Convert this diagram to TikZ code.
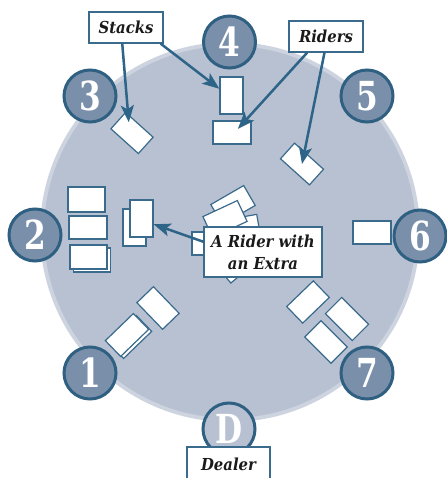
\documentclass[tikz,border=0pt]{standalone}
\usepackage{fontspec}
\newfontfamily\lblfont[FakeStretch=0.9]{DejaVu Serif}
\newfontfamily\numfont[FakeStretch=0.78]{DejaVu Serif}
\usetikzlibrary{arrows.meta,calc}
\definecolor{tablefill}{HTML}{B7C1D2}
\definecolor{tablerim}{HTML}{CDD4E0}
\definecolor{seatfill}{HTML}{7A90AA}
\definecolor{seatline}{HTML}{2F6082}
\definecolor{cardline}{HTML}{3A6A8C}
\definecolor{arrowcol}{HTML}{2D6487}
\definecolor{ink}{HTML}{1A1A1A}
\begin{document}
\begin{tikzpicture}[x=1pt,y=-1pt,
  seat/.style={circle, draw=seatline, line width=3pt, fill=seatfill, minimum size=52pt, inner sep=0pt, text=white, font=\numfont\bfseries\fontsize{40}{40}\selectfont},
  card/.style={draw=cardline, fill=white, line width=1.2pt, minimum width=38pt, minimum height=23pt, inner sep=0pt},
  vcard/.style={card, minimum width=23pt, minimum height=37pt},
  lbl/.style={draw=cardline, fill=white, line width=1.2pt, inner sep=0pt, text=ink, align=center, font=\lblfont\bfseries\itshape\fontsize{16.5}{22}\selectfont},
  arr/.style={draw=arrowcol, line width=2.5pt, -{Stealth[length=17pt,width=13pt,inset=4pt]}}]
\useasboundingbox (0,0) rectangle (446,478);
% table
\fill[tablerim] (230,232) circle[radius=190];
\fill[tablefill] (230,232) circle[radius=186];
% seats
\node[seat] (s4) at (229.5,42) {4};
\node[seat] (s3) at (90,96) {3};
\node[seat] (s5) at (367,96) {5};
\node[seat] (s2) at (35,235) {2};
\node[seat] (s6) at (420,236) {6};
\node[seat] (s1) at (90,373) {1};
\node[seat] (s7) at (367,373) {7};
\node[seat, fill=tablefill] (sd) at (229,429) {D};
% cards
\node[card, minimum width=37pt, minimum height=25pt] (c2a) at (86.5,199.5) {};
\node[card] (c2b) at (88,227.5) {};
\node[card, minimum width=37pt, minimum height=24pt] (c2cb) at (92,260) {};
\node[card, minimum width=37pt, minimum height=24pt] (c2c) at (88.5,257) {};
\node[vcard] (v1) at (134.5,227.5) {};
\node[vcard] (v2) at (141.5,218.5) {};
\node[vcard] (c4v) at (231.5,95.5) {};
\node[card] (c4h) at (232,132.5) {};
\node[card, minimum width=37pt, minimum height=22pt, rotate=-42] (c3) at (132,133) {};
\node[card, minimum width=39pt, minimum height=21pt, rotate=-42] (c5) at (302,164) {};
\node[card] (c6) at (372,232.5) {};
\node[card, minimum width=37pt, rotate=-46] (c1a) at (158,308) {};
\node[card, minimum width=39pt, minimum height=22pt, rotate=44] (c1bb) at (130,337) {};
\node[card, minimum width=39pt, minimum height=22pt, rotate=44] (c1b) at (127,335) {};
\node[card, minimum width=37pt, rotate=44] (c7a) at (308,302) {};
\node[card, rotate=-45] (c7b) at (347,319) {};
\node[card, minimum width=37pt, rotate=-45] (c7c) at (326,342) {};
% centre pile
\node[card, rotate=40] (p5) at (238,262) {};
\node[card, rotate=30] (p1) at (233,205) {};
\node[card, rotate=10] (p3) at (240,229) {};
\node[card, rotate=25] (p2) at (225,219) {};
\node[card] (p4) at (211,243.5) {};
% labels
\node[lbl, minimum width=74pt, minimum height=31pt] (stacks) at (126,27.5) {Stacks};
\node[lbl, minimum width=74pt, minimum height=31pt] (riders) at (326,36.5) {Riders};
\node[lbl, minimum width=118pt, minimum height=50pt] (extra) at (263,252) {A Rider with\\an Extra};
\node[lbl, minimum width=83pt, minimum height=34pt] (dealer) at (228.5,464) {Dealer};
% arrows
\draw[arr] ($(stacks.south west)!0.45!(stacks.south east)$) -- ($(c3.center)!0.5!(c3.north west)$);
\draw[arr] ($(stacks.south west)!0.96!(stacks.south east)$) -- ($(c4v.west)!0.35!(c4v.north west)$);
\draw[arr] ($(riders.south west)!0.25!(riders.south east)$) -- ($(c4h.center)!0.3!(c4h.north east)$);
\draw[arr] ($(riders.south west)!0.48!(riders.south east)$) -- (c5.center);
\draw[arr] ($(extra.west)!0.4!(extra.north west)$) -- ($(v2.east)!0.3!(v2.south east)$);
\end{tikzpicture}
\end{document}
